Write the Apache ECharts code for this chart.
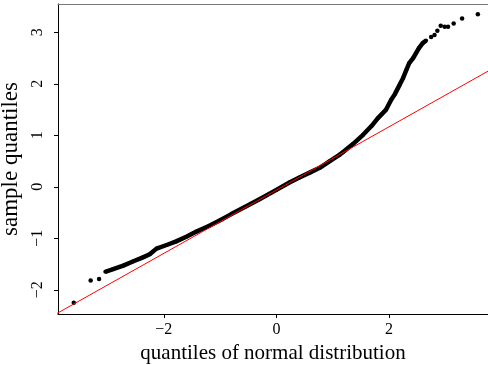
<!DOCTYPE html>
<html>
<head>
<meta charset="utf-8">
<script src="https://cdn.jsdelivr.net/npm/echarts@6/dist/echarts.min.js"></script>
<style>
html,body{margin:0;padding:0;background:#fff;}
#c{width:488px;height:365px;}
</style>
</head>
<body>
<div id="c"></div>
<script>
// dense part of the sample quantiles (theoretical x, sample y)
var denseX = [-3.04,-2.90,-2.72,-2.55,-2.37,-2.25,-2.13,-1.95,-1.78,-1.60,-1.42,-1.20,-1.00,-0.80,-0.56,-0.30,0.00,0.24,0.41,0.60,0.77,0.95,1.12,1.18,1.36,1.54,1.69,1.80,1.95,2.04,2.10,2.19,2.25,2.31,2.36,2.43,2.53,2.60,2.66];
var denseY = [-1.65,-1.60,-1.53,-1.45,-1.37,-1.31,-1.20,-1.13,-1.06,-0.97,-0.87,-0.76,-0.65,-0.53,-0.39,-0.24,-0.06,0.09,0.18,0.28,0.37,0.50,0.62,0.67,0.83,1.01,1.18,1.33,1.50,1.69,1.79,1.98,2.11,2.27,2.40,2.50,2.69,2.79,2.84];
// sparse tail points
var tailX = [-3.60,-3.30,-3.15,2.75,2.81,2.86,2.92,2.99,3.05,3.15,3.30,3.58];
var tailY = [-2.25,-1.82,-1.79,2.91,2.95,3.03,3.13,3.11,3.11,3.17,3.27,3.35];
// reference line end points
var refX = [-3.9, 3.8];
var refY = [-2.46, 2.27];
var xTicks = [-2, 0, 2];
var yTicks = [-2, -1, 0, 1, 2, 3];

function pairs(xs, ys){ return xs.map(function(x,i){return [x, ys[i]];}); }
function fmt(v){ return String(v).replace('-', '\u2212'); }

var chart = echarts.init(document.getElementById('c'), null, {renderer:'canvas'});
var font = 'Liberation Serif';
chart.setOption({
  animation:false,
  backgroundColor:'#fff',
  grid:{left:58, top:4, right:0, bottom:51, containLabel:false, outerBoundsMode:'none'},
  xAxis:[{
    type:'value', min:-3.88, max:3.76, position:'bottom',
    name:'quantiles of normal distribution', nameLocation:'middle', nameGap:25,
    nameTextStyle:{fontFamily:font, fontSize:21, color:'#000'},
    axisLine:{show:true, onZero:false, lineStyle:{color:'#000', width:1}},
    axisTick:{show:true, length:4, customValues:xTicks, lineStyle:{color:'#000'}},
    axisLabel:{customValues:xTicks, formatter:fmt, fontFamily:font, fontSize:16, color:'#000', margin:8},
    splitLine:{show:false}
  },{
    type:'value', min:-3.88, max:3.76, position:'top',
    axisLine:{show:true, onZero:false, lineStyle:{color:'#777', width:1}},
    axisTick:{show:false}, axisLabel:{show:false}, splitLine:{show:false}
  }],
  yAxis:{
    type:'value', min:-2.47, max:3.55,
    name:'sample quantiles', nameLocation:'middle', nameGap:29, nameRotate:90,
    nameTextStyle:{fontFamily:font, fontSize:23, color:'#000'},
    axisLine:{show:true, onZero:false, lineStyle:{color:'#000', width:1}},
    axisTick:{show:true, length:4, customValues:yTicks, lineStyle:{color:'#000'}},
    axisLabel:{customValues:yTicks, formatter:fmt, rotate:90, fontFamily:font, fontSize:16, color:'#000', margin:12},
    splitLine:{show:false}
  },
  series:[{
    type:'line', data:pairs(denseX, denseY), showSymbol:true, symbol:'circle', symbolSize:4,
    itemStyle:{color:'#000'}, lineStyle:{color:'#000', width:4.5}, z:2
  },{
    type:'scatter', data:pairs(tailX, tailY), symbol:'circle', symbolSize:4.5,
    itemStyle:{color:'#000', opacity:1}, z:2
  },{
    type:'line', data:pairs(refX, refY), showSymbol:false, clip:true,
    lineStyle:{color:'#ff0000', width:1}, z:3
  }]
});
</script>
</body>
</html>
